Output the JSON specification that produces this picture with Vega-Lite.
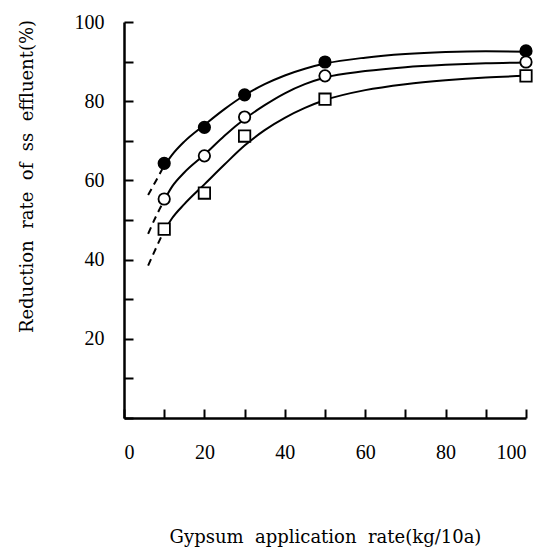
{
  "$schema": "https://vega.github.io/schema/vega-lite/v6.json",
  "width": 402,
  "height": 396,
  "autosize": {"type": "none"},
  "padding": {"left": 124, "top": 22, "right": 14, "bottom": 130},
  "background": "white",
  "config": {
    "view": {"stroke": null},
    "font": "DejaVu Serif",
    "axis": {
      "grid": false,
      "domainColor": "black",
      "domainWidth": 2.5,
      "tickColor": "black",
      "tickWidth": 2,
      "tickSize": -9,
      "labelColor": "black",
      "labelFont": "Liberation Serif",
      "labelFontSize": 20,
      "titleFont": "DejaVu Serif",
      "titleFontSize": 18,
      "titleFontWeight": "normal",
      "titleColor": "black"
    }
  },
  "datasets": {
    "curves": [
      {"series": "filled", "x": 6, "y": 56.3}, {"series": "filled", "x": 8, "y": 60}, {"series": "filled", "x": 9.5, "y": 62.8},
      {"series": "filled", "x": 12, "y": 66.5}, {"series": "filled", "x": 15, "y": 69.8}, {"series": "filled", "x": 20, "y": 74},
      {"series": "filled", "x": 25, "y": 78}, {"series": "filled", "x": 30, "y": 81.5}, {"series": "filled", "x": 35, "y": 84.3},
      {"series": "filled", "x": 40, "y": 86.5}, {"series": "filled", "x": 45, "y": 88.2}, {"series": "filled", "x": 50, "y": 89.5},
      {"series": "filled", "x": 60, "y": 91.0}, {"series": "filled", "x": 70, "y": 91.9}, {"series": "filled", "x": 80, "y": 92.4},
      {"series": "filled", "x": 90, "y": 92.6}, {"series": "filled", "x": 100, "y": 92.5},
      {"series": "open", "x": 6, "y": 46.5}, {"series": "open", "x": 8, "y": 51}, {"series": "open", "x": 9.5, "y": 54},
      {"series": "open", "x": 12, "y": 58.5}, {"series": "open", "x": 15, "y": 62}, {"series": "open", "x": 20, "y": 66.5},
      {"series": "open", "x": 25, "y": 71.3}, {"series": "open", "x": 30, "y": 75.5}, {"series": "open", "x": 35, "y": 79},
      {"series": "open", "x": 40, "y": 82}, {"series": "open", "x": 45, "y": 84.3}, {"series": "open", "x": 50, "y": 86},
      {"series": "open", "x": 60, "y": 87.6}, {"series": "open", "x": 70, "y": 88.6}, {"series": "open", "x": 80, "y": 89.2},
      {"series": "open", "x": 90, "y": 89.6}, {"series": "open", "x": 100, "y": 89.8},
      {"series": "square", "x": 6, "y": 38.5}, {"series": "square", "x": 8, "y": 43}, {"series": "square", "x": 9.5, "y": 46.3},
      {"series": "square", "x": 12, "y": 50.5}, {"series": "square", "x": 15, "y": 54}, {"series": "square", "x": 20, "y": 59},
      {"series": "square", "x": 25, "y": 64}, {"series": "square", "x": 30, "y": 68.8}, {"series": "square", "x": 35, "y": 72.7},
      {"series": "square", "x": 40, "y": 75.8}, {"series": "square", "x": 45, "y": 78.3}, {"series": "square", "x": 50, "y": 80.3},
      {"series": "square", "x": 60, "y": 82.8}, {"series": "square", "x": 70, "y": 84.3}, {"series": "square", "x": 80, "y": 85.3},
      {"series": "square", "x": 90, "y": 86}, {"series": "square", "x": 100, "y": 86.4}
    ],
    "points": [
      {"series": "filled", "x": 10, "y": 64.3}, {"series": "filled", "x": 20, "y": 73.4}, {"series": "filled", "x": 30, "y": 81.6},
      {"series": "filled", "x": 50, "y": 89.9}, {"series": "filled", "x": 100, "y": 92.7},
      {"series": "open", "x": 10, "y": 55.3}, {"series": "open", "x": 20, "y": 66.2}, {"series": "open", "x": 30, "y": 76.0},
      {"series": "open", "x": 50, "y": 86.4}, {"series": "open", "x": 100, "y": 89.9},
      {"series": "square", "x": 10, "y": 47.7}, {"series": "square", "x": 20, "y": 56.8}, {"series": "square", "x": 30, "y": 71.2},
      {"series": "square", "x": 50, "y": 80.5}, {"series": "square", "x": 100, "y": 86.4}
    ]
  },
  "encoding": {
    "x": {
      "field": "x", "type": "quantitative",
      "scale": {"domain": [0, 100], "nice": false, "zero": true},
      "axis": {
        "values": [0, 10, 20, 30, 40, 50, 60, 70, 80, 90, 100],
        "labelExpr": "datum.value % 20 === 0 ? datum.label : ''",
        "labelPadding": 33,
        "title": "Gypsum\u00a0 application\u00a0 rate(kg/10a)",
        "titlePadding": 66
      }
    },
    "y": {
      "field": "y", "type": "quantitative",
      "scale": {"domain": [0, 100], "nice": false},
      "axis": {
        "values": [0, 10, 20, 30, 40, 50, 60, 70, 80, 90, 100],
        "labelExpr": "datum.value % 20 === 0 && datum.value > 0 ? datum.label : ''",
        "labelPadding": 29,
        "title": "Reduction\u00a0 rate\u00a0 of\u00a0 ss\u00a0 effluent(%)",
        "titleX": -97,
        "titleY": 154,
        "titleAngle": -90,
        "titleBaseline": "middle",
        "titleAlign": "center"
      }
    }
  },
  "layer": [
    {
      "data": {"name": "curves"},
      "transform": [{"filter": "datum.x <= 9.5"}],
      "mark": {"type": "line", "color": "black", "strokeWidth": 2, "strokeDash": [7, 5], "interpolate": "monotone"},
      "encoding": {"detail": {"field": "series"}}
    },
    {
      "data": {"name": "curves"},
      "transform": [{"filter": "datum.x >= 9.5"}],
      "mark": {"type": "line", "color": "black", "strokeWidth": 2, "interpolate": "monotone"},
      "encoding": {"detail": {"field": "series"}}
    },
    {
      "data": {"name": "points"},
      "mark": {"type": "point", "size": 130, "strokeWidth": 1.8, "stroke": "black", "opacity": 1, "filled": false},
      "encoding": {
        "shape": {"field": "series", "type": "nominal", "scale": {"domain": ["filled", "open", "square"], "range": ["circle", "circle", "square"]}, "legend": null},
        "fill": {"field": "series", "type": "nominal", "scale": {"domain": ["filled", "open", "square"], "range": ["black", "white", "white"]}, "legend": null}
      }
    }
  ]
}
